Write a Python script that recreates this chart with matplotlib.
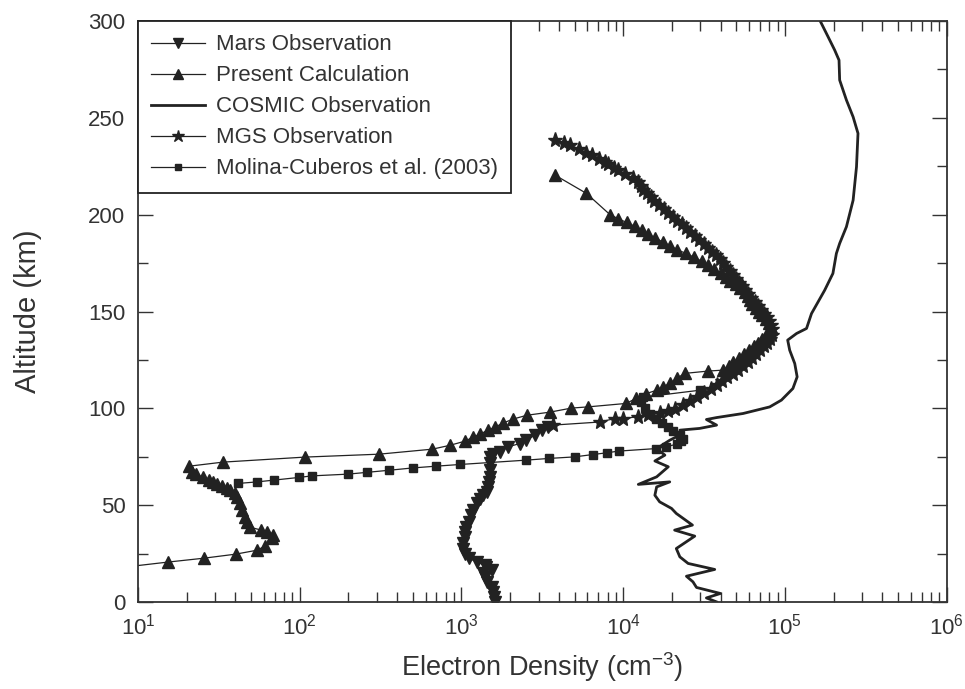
import matplotlib
matplotlib.use("Agg")
import matplotlib.pyplot as plt
from matplotlib.ticker import LogLocator, MultipleLocator, NullFormatter

plt.rcParams['font.family'] = ['Liberation Sans', 'DejaVu Sans']
plt.rcParams['mathtext.default'] = 'regular'

# Mars observation (inverted triangles)
mars_alt = [0.2, 2.7, 5.3, 7.9, 10.5, 13.0, 15.0, 16.5, 18.0, 19.1, 20.8, 22.6, 25.1, 27.7,
            30.3, 33.7, 36.3, 38.9, 41.5, 44.9, 47.5, 51.0, 53.5, 55.2, 56.9, 59.5, 62.1,
            64.7, 68.1, 71.6, 75.0, 76.5, 77.6, 80.2, 81.9, 83.6, 86.2, 88.8, 90.3]
mars_n = [1610, 1590, 1570, 1540, 1430, 1390, 1360, 1550, 1420, 1390, 1240, 1120, 1050, 1020,
          1020, 1050, 1050, 1070, 1120, 1150, 1180, 1240, 1300, 1360, 1430, 1460, 1480,
          1500, 1500, 1510, 1500, 1560, 1730, 1940, 2300, 2520, 2840, 3130, 3450]

# present calculation (triangles)
present_alt = [16.0, 20.7, 22.7, 24.8, 26.8, 28.9, 33.0, 34.6, 36.0, 37.2, 38.7, 41.3, 43.9,
               47.5, 51.1, 54.2, 56.3, 57.8, 58.9, 59.9, 60.9, 62.0, 63.0, 64.5, 66.1, 67.1,
               70.2, 72.3, 74.9, 76.4, 79.0, 81.0, 83.1, 85.2, 86.7, 88.8, 90.3, 92.4, 94.5,
               96.5, 98.1, 100.2, 100.8, 102.6, 105.2, 107.7, 109.4, 111.2, 112.9, 115.5,
               118.1, 119.3, 119.8, 122, 124, 126, 128, 130, 132, 134, 136, 138, 140, 142,
               144, 146, 148, 150, 152, 154, 156, 158, 160, 162, 164, 166, 168, 170, 172,
               174, 176, 178, 180, 182, 184, 186, 188, 190, 192, 194, 196, 198, 200, 211,
               220.5]
present_n = [5.0, 15.3, 25.5, 40.2, 54.2, 61, 67, 68.5, 63, 58, 49.2, 47.2, 46,
             44, 42.7, 41, 40, 37, 35.3, 33, 30.9, 29.1, 27.5, 25.1, 22.8, 21.5,
             20.7, 33.5, 108, 309, 662, 850, 1050, 1180, 1300, 1456, 1608, 1800, 2080,
             2540, 3520, 4790, 6030, 10450, 12000, 13900, 16100, 17700, 19400, 21400,
             24000, 33500, 41500, 45000, 48000, 52000, 56000, 60000, 64000, 68000, 72000,
             76000, 80000, 82000, 80000, 76000, 72000, 69000, 66000, 63000, 61000, 59000,
             56500, 53000, 49500, 46000, 43000, 40000, 36500, 33500, 30500, 27500, 24500,
             21500, 19500, 17500, 15800, 14300, 13000, 11800, 10500, 9300, 8300, 5930, 3780]

# COSMIC observation (solid line)
cosmic_alt = [0.15, 2.2, 4.5, 7.6, 10.5, 13.4, 16.9, 20.0, 23.4, 27.7, 34.1, 37.2, 39.8,
              45.8, 48.4, 51.8, 55.2, 59.5, 62.1, 60.8, 64.7, 69.9, 72.9, 75.9, 79.3, 83.6,
              87.1, 88.8, 89.7, 91.4, 94.3, 95.3, 97.4, 100.8, 104.3, 110.3, 116.3, 123.2,
              130.1, 135.3, 138.7, 141.3, 149, 161, 169.7, 180, 185.2, 193.8, 207.5, 224.7,
              242, 250.5, 259.2, 269.5, 279.8, 285, 291.8, 298.8, 300.5]
cosmic_n = [37800, 32700, 39900, 28400, 27000, 24600, 36800, 25200, 22400, 21300, 27700,
            20800, 26800, 21300, 19900, 16800, 15700, 16100, 19400, 12400, 16100, 19000,
            15700, 18100, 16100, 19400, 23400, 22400, 29700, 37800, 32700, 37800, 55100,
            80500, 95100, 112000, 119000, 115000, 107000, 104000, 118000, 136000, 146000,
            176000, 198000, 208000, 218000, 240000, 264000, 277000, 283000, 264000, 240000,
            218000, 216000, 203000, 185000, 168000, 164000]

# MGS observation (stars)
mgs_alt = [91.4, 93, 94.8, 94.8, 95.7, 96.5, 97.6, 98.5, 99.5, 102, 104, 106, 108, 110,
           112, 114, 116, 118, 120, 122, 124, 126, 128, 130, 132, 134, 136, 138, 141, 143,
           145, 147, 149, 151, 153, 155, 157, 159, 161, 163, 165, 167, 169, 171, 173, 175,
           177, 179, 181, 183, 185, 187, 189, 191, 193, 195, 197, 199, 201, 203, 205, 207,
           209, 211, 213, 215, 217, 219, 221, 223, 224, 226, 227, 229, 231, 232, 234, 236,
           237, 238.5]
mgs_n = [3670, 7160, 8870, 9940, 12300, 14200, 16800, 18900, 20900, 23400, 25800, 28500,
         31500, 34800, 37900, 40700, 43700, 47600, 51100, 55000, 59000, 62400, 66100, 70000,
         74000, 77300, 80600, 83500, 83000, 81500, 79500, 77000, 74000, 71000, 68000, 65000,
         62000, 59000, 56500, 54000, 51800, 49500, 47500, 45500, 43500, 41500, 39500, 37500,
         35500, 33500, 31500, 29600, 27700, 26000, 24500, 23000, 21600, 20300, 19000, 17800,
         16600, 15600, 14800, 14000, 13300, 12800, 12300, 11500, 10300, 9300, 8800, 8100,
         7700, 7100, 6400, 5900, 5300, 4700, 4300, 3780]

# Molina-Cuberos et al. (2003) (squares)
molina_alt = [61.3, 62.1, 63.0, 64.4, 65.2, 66.1, 67.0, 68.1, 69.3, 70.2, 71.1, 73.3, 74.2,
              75.0, 76.2, 77.1, 78.0, 79.3, 80.2, 81.6, 83.0, 84.2, 86.2, 88.3, 90.3, 92.4,
              94.5, 97.0, 100.2, 103.3, 105.8, 109.4]
molina_n = [41.7, 54.6, 69, 99, 119, 199, 259, 357, 500, 694, 986, 2490, 3470,
            5000, 6460, 7890, 9400, 16000, 18500, 21400, 22800, 23300, 22400, 20400, 18900, 17400,
            15900, 14600, 13600, 12800, 13200, 29700]

ink = '#222222'
txt = '#333333'

fig = plt.figure(figsize=(9.65, 6.89), dpi=100)
ax = fig.add_axes([0.143, 0.126, 0.838, 0.8435])

ax.plot(mars_n, mars_alt, color=ink, lw=0.9, marker='v', ms=8.5, label='Mars Observation')
ax.plot(present_n, present_alt, color=ink, lw=0.9, marker='^', ms=8.5, label='Present Calculation')
ax.plot(cosmic_n, cosmic_alt, color=ink, lw=2.0, label='COSMIC Observation')
ax.plot(mgs_n, mgs_alt, color=ink, lw=0.9, marker='*', ms=11, label='MGS Observation')
ax.plot(molina_n, molina_alt, color=ink, lw=0.9, marker='s', ms=5.5,
        label='Molina-Cuberos et al. (2003)')

ax.set_xscale('log')
ax.set_xlim(10, 1e6)
ax.set_ylim(0, 300)
ax.yaxis.set_major_locator(MultipleLocator(50))
ax.yaxis.set_minor_locator(MultipleLocator(25))
ax.xaxis.set_minor_locator(LogLocator(base=10, subs=range(2, 10), numticks=20))
ax.xaxis.set_minor_formatter(NullFormatter())

ax.tick_params(which='both', direction='in', top=True, right=True, colors=txt,
               labelsize=16, width=1)
ax.tick_params(which='major', length=11)
ax.tick_params(which='minor', length=7.5)
ax.tick_params(axis='x', which='major', pad=8)
ax.tick_params(axis='y', which='major', pad=9)
for s in ax.spines.values():
    s.set_linewidth(1.3)
    s.set_color(txt)

ax.set_xlabel('Electron Density (cm$^{-3}$)', fontsize=19.5, color=txt, labelpad=8)
ax.set_ylabel('Altitude (km)', fontsize=21, color=txt, labelpad=33)

leg = ax.legend(loc='upper left', bbox_to_anchor=(0, 1), borderaxespad=0, fancybox=False,
                edgecolor=ink, framealpha=1, fontsize=16, handlelength=2.4,
                handletextpad=0.5, labelspacing=0.45, borderpad=0.6, labelcolor=txt,
                markerscale=0.85)
leg.get_frame().set_linewidth(1.3)

fig.savefig('out.png', dpi=100)
